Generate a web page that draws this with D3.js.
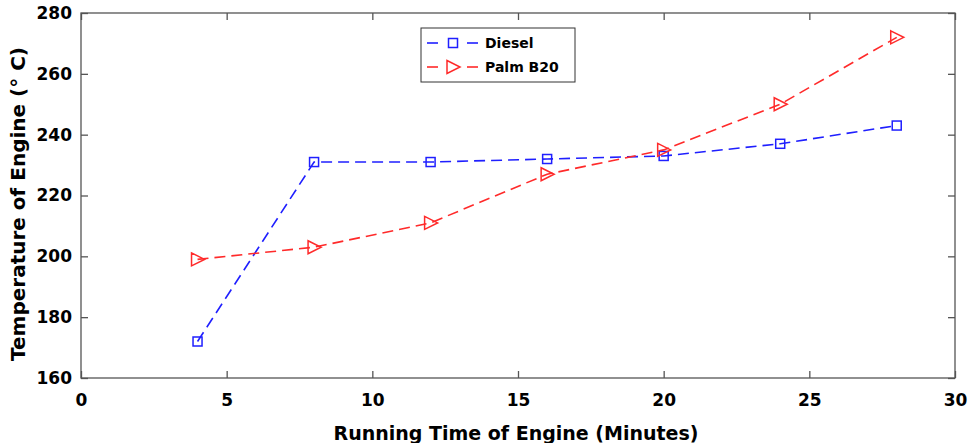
<!DOCTYPE html>
<html>
  <head>
    <meta charset="utf-8">
    <title>Engine temperature</title>
    <script src="https://d3js.org/d3.v7.min.js"></script>
    <style>
      body { margin: 0; background: white; }
      text { font-family: "DejaVu Sans", Arial, sans-serif; font-weight: bold; fill: black; }
      .frame { fill: none; stroke: #555; stroke-width: 1.3; }
      .tick line { stroke: #555; stroke-width: 1.3; }
      .series { fill: none; stroke-width: 1.6; stroke-dasharray: 11 6; }
      .marker { fill: none; stroke-width: 1.5; }
    </style>
  </head>
  <body>
    <script>
      var times = [4, 8, 12, 16, 20, 24, 28];
      var diesel = [172, 231, 231, 232, 233, 237, 243];
      var palmB20 = [199, 203, 211, 227, 235, 250, 272];
      var xTicks = [0, 5, 10, 15, 20, 25, 30];
      var yTicks = [160, 180, 200, 220, 240, 260, 280];

      var W = 974, H = 443;
      var mLeft = 81, mRight = 955, mTop = 13, mBottom = 378;

      var svg = d3.select('body').append('svg').attr('width', W).attr('height', H);

      var x = d3.scaleLinear().domain([0, 30]).range([mLeft, mRight]);
      var y = d3.scaleLinear().domain([160, 280]).range([mBottom, mTop]);

      // axes with inward ticks on all four sides
      var tl = 7;
      svg.append('g').attr('transform', 'translate(0,' + mBottom + ')')
        .call(d3.axisBottom(x).tickValues(xTicks).tickSize(-tl).tickPadding(16))
        .call(function(g){ g.select('.domain').remove(); g.selectAll('text').attr('font-size', 17); });
      svg.append('g').attr('transform', 'translate(0,' + mTop + ')')
        .call(d3.axisTop(x).tickValues(xTicks).tickSize(-tl).tickFormat(''))
        .call(function(g){ g.select('.domain').remove(); });
      svg.append('g').attr('transform', 'translate(' + mLeft + ',0)')
        .call(d3.axisLeft(y).tickValues(yTicks).tickSize(-tl).tickPadding(9))
        .call(function(g){ g.select('.domain').remove(); g.selectAll('text').attr('font-size', 17); });
      svg.append('g').attr('transform', 'translate(' + mRight + ',0)')
        .call(d3.axisRight(y).tickValues(yTicks).tickSize(-tl).tickFormat(''))
        .call(function(g){ g.select('.domain').remove(); });

      svg.append('rect').attr('class', 'frame')
        .attr('x', mLeft).attr('y', mTop).attr('width', mRight - mLeft).attr('height', mBottom - mTop);

      svg.append('text').attr('x', 516).attr('y', 440)
        .attr('text-anchor', 'middle').attr('font-size', 19)
        .text('Running Time of Engine (Minutes)');
      svg.append('text').attr('transform', 'translate(25,204) rotate(-90)')
        .attr('text-anchor', 'middle').attr('font-size', 20)
        .text('Temperature of Engine (\u00B0 C)');

      var line = d3.line()
        .x(function(d, i){ return x(times[i]) })
        .y(function(d){ return y(d) });

      function square(g, cx, cy, color) {
        g.append('rect').attr('class', 'marker').attr('stroke', color)
          .attr('x', cx - 4.5).attr('y', cy - 4.5).attr('width', 9).attr('height', 9);
      }
      function triangle(g, cx, cy, color) {
        g.append('path').attr('class', 'marker').attr('stroke', color)
          .attr('d', 'M' + (cx - 6) + ',' + (cy - 6.5) + 'L' + (cx + 7) + ',' + cy + 'L' + (cx - 6) + ',' + (cy + 6.5) + 'Z');
      }

      var series = [
        { name: 'Diesel', values: diesel, color: '#1f1fff', marker: square },
        { name: 'Palm B20', values: palmB20, color: '#ff2a2a', marker: triangle }
      ];

      series.forEach(function(s){
        svg.append('path').datum(s.values).attr('class', 'series')
          .attr('stroke', s.color).attr('d', line);
        var g = svg.append('g');
        s.values.forEach(function(v, i){ s.marker(g, x(times[i]), y(v), s.color); });
      });

      // legend
      var lg = svg.append('g').attr('transform', 'translate(421,28)');
      lg.append('rect').attr('width', 154).attr('height', 54)
        .attr('fill', 'white').attr('stroke', '#333').attr('stroke-width', 1);
      series.forEach(function(s, i){
        var cy = 15 + i * 24;
        lg.append('line').attr('x1', 6).attr('x2', 17).attr('y1', cy).attr('y2', cy)
          .attr('stroke', s.color).attr('stroke-width', 1.6);
        lg.append('line').attr('x1', 46).attr('x2', 57).attr('y1', cy).attr('y2', cy)
          .attr('stroke', s.color).attr('stroke-width', 1.6);
        s.marker(lg, 32, cy, s.color);
        lg.append('text').attr('x', 64).attr('y', cy + 5).attr('font-size', 14).text(s.name);
      });
    </script>
  </body>
</html>
